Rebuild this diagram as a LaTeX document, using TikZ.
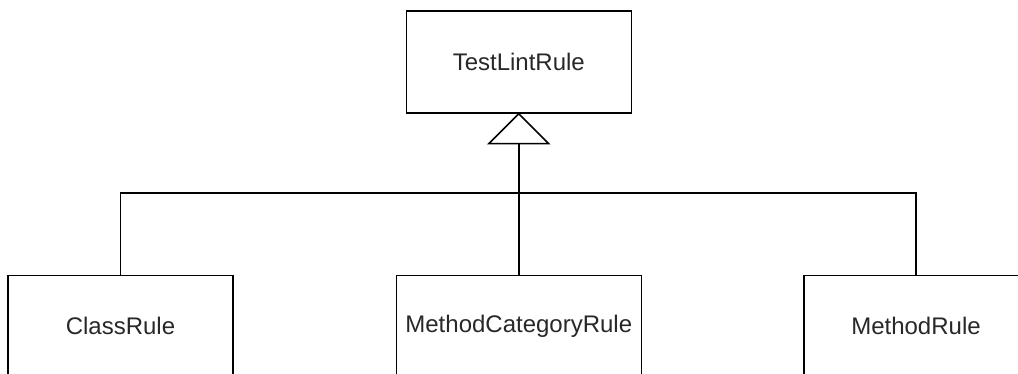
\documentclass[tikz,border=0pt]{standalone}
\usepackage{fontspec}
\setmainfont{Liberation Sans}
\definecolor{txt}{RGB}{40,40,40}
\begin{document}
\begin{tikzpicture}[x=1pt,y=-1pt,
  cls/.style={draw, line width=1.5pt, minimum height=101pt, inner sep=0pt,
    text=txt, font=\fontsize{24}{28}\selectfont},
  conn/.style={line width=1.5pt}]
\useasboundingbox (0,0) rectangle (1018,374);
\clip (0,0) rectangle (1018,374);
\node[cls, minimum width=225pt, minimum height=102pt] (top) at (518.8,62) {TestLintRule};
\node[cls, minimum width=225pt] (c1) at (120.5,326) {ClassRule};
\node[cls, minimum width=245pt] (c2) at (518.8,326) {MethodCategoryRule};
\node[cls, minimum width=224pt] (c3) at (916,326) {MethodRule};
\coordinate (tb) at ([yshift=-30pt]top.south);
\coordinate (j) at (518.8,193);
\draw[conn, fill=white, line join=miter] (top.south) -- ([xshift=-30pt]tb) -- ([xshift=30pt]tb) -- cycle;
\draw[conn] (tb) -- (c2.north);
\draw[conn] (c1.north) |- (j) -| (c3.north);
\end{tikzpicture}
\end{document}
